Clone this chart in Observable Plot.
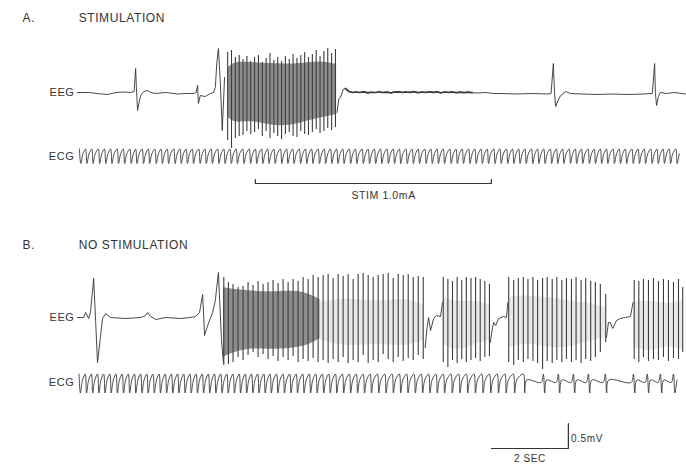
<!DOCTYPE html>
<html><head><meta charset="utf-8">
<script src="https://cdn.jsdelivr.net/npm/d3@7"></script>
<script src="https://cdn.jsdelivr.net/npm/@observablehq/plot@0.6"></script>
<style>html,body{margin:0;padding:0;background:#fff;} #chart svg{display:block}</style>
</head><body><div id="chart"></div>
<script>
// ---------- data (time in s, potential in mV relative to each trace baseline) ----------
const panelLetters = ["A.", "B."];
const panelTitles = ["STIMULATION", "NO STIMULATION"];
const traceNames = ["EEG", "ECG", "EEG", "ECG"];
const stimLabel = "STIM 1.0mA";
const stimOnset = 4.62, stimOffset = 10.75;
const scaleTime = 2, scaleVolt = 0.5;
const scaleTimeLabel = "2 SEC", scaleVoltLabel = "0.5mV";

// EEG A: quiet segments [t, mV] and seizure spikes [t, top, bottom]
const eegA_pre = [[0,0],[0.3,0.0],[0.5,-0.02],[0.78,-0.04],[1.0,0.0],[1.2,0.01],[1.38,0.0],[1.47,0.02],[1.51,0.48],[1.53,0.1],[1.56,-0.36],[1.6,-0.2],[1.64,-0.06],[1.72,0.02],[1.82,0.04],[1.9,0.0],[2.03,-0.02],[2.29,0.0],[2.6,-0.03],[2.8,-0.02],[3.01,-0.02],[3.08,0.0],[3.12,0.14],[3.14,-0.22],[3.19,-0.06],[3.32,-0.08],[3.45,-0.02],[3.53,0.0],[3.58,0.1],[3.62,0.6],[3.66,0.88],[3.71,0.2],[3.76,-0.76],[3.82,0.3]];
const eegA_spikes = [[3.90,0.80,-0.96],[4.00,0.84,-1.12],[4.10,0.70,-0.92],[4.20,0.74,-0.88],[4.30,0.66,-0.86],[4.40,0.72,-0.78],[4.50,0.62,-0.84],[4.60,0.70,-0.80],[4.70,0.74,-0.74],[4.80,0.60,-0.88],[4.90,0.68,-0.78],[5.00,0.78,-0.92],[5.10,0.64,-0.82],[5.20,0.70,-0.88],[5.30,0.62,-0.94],[5.40,0.72,-0.84],[5.50,0.66,-0.80],[5.60,0.76,-0.88],[5.70,0.68,-0.90],[5.80,0.74,-0.78],[5.90,0.80,-0.84],[6.00,0.70,-0.86],[6.10,0.76,-0.80],[6.20,0.84,-0.74],[6.30,0.72,-0.82],[6.40,0.82,-0.78],[6.50,0.88,-0.72],[6.60,0.78,-0.76],[6.70,0.86,-0.70]];
const eegA_post = [[6.74,-0.40],[6.79,-0.12],[6.83,-0.10],[6.90,0.06],[6.96,0.08],[7.05,0.02],[7.15,0.0],[7.25,0.01],[7.32,0.0],[7.45,0.012],[7.55,-0.008],[7.6,0.005],[7.75,0.0],[7.85,0.015],[7.9,0.0],[8.05,0.008],[8.15,-0.01],[8.2,0.006],[8.35,0.012],[8.45,0.0],[8.5,0.01],[8.65,0.004],[8.72,0.016],[8.85,-0.004],[8.95,0.01],[9.05,0.0],[9.12,0.014],[9.25,0.002],[9.35,0.012],[9.42,-0.006],[9.55,0.01],[9.65,0.0],[9.7,0.012],[9.85,-0.004],[9.95,0.008],[10.05,-0.002],[10.15,0.006],[10.25,-0.004],[10.4,-0.01],[10.6,0.0],[10.8,-0.02],[11.0,-0.02],[11.4,-0.03],[11.8,-0.02],[12.2,-0.03],[12.3,-0.02],[12.36,0.58],[12.39,0.0],[12.42,-0.28],[12.48,-0.16],[12.55,-0.06],[12.68,0.02],[12.8,-0.02],[13.1,-0.03],[13.5,-0.04],[13.9,-0.03],[14.3,-0.04],[14.7,-0.03],[14.93,-0.02],[14.99,0.58],[15.01,0.0],[15.04,-0.26],[15.09,-0.08],[15.14,0.0],[15.3,-0.02],[15.5,0.0],[15.79,-0.03]];
const eegA_blob = [[3.92,-0.50,0.50],[4.1,-0.62,0.62],[4.5,-0.56,0.60],[5.0,-0.66,0.58],[5.5,-0.68,0.56],[6.0,-0.56,0.60],[6.4,-0.50,0.62],[6.73,-0.44,0.56]];

// EEG B
const eegB_pre = [[0,0],[0.16,0],[0.21,0.1],[0.29,-0.02],[0.34,0.12],[0.42,0.78],[0.47,-0.06],[0.52,-0.9],[0.6,-0.36],[0.65,-0.02],[0.73,0.08],[0.86,0],[1.25,-0.02],[1.64,0],[1.77,0.04],[1.82,0.1],[1.9,0.02],[2.03,-0.04],[2.29,0],[2.68,-0.02],[2.94,0],[3.06,0.02],[3.17,0.1],[3.25,0.46],[3.3,-0.36],[3.38,-0.16],[3.45,-0.02],[3.51,0.1],[3.58,0.34],[3.66,0.9],[3.74,-0.46],[3.79,-0.9]];
const eegB_spikes1 = [[3.80,0.80,-0.96],[3.92,0.70,-0.94],[4.04,0.66,-0.90],[4.17,0.60,-0.80],[4.30,0.62,-0.86],[4.43,0.70,-0.76],[4.56,0.64,-0.70],[4.69,0.72,-0.80],[4.82,0.66,-0.74],[4.95,0.70,-0.84],[5.08,0.74,-0.78],[5.21,0.68,-0.88],[5.34,0.76,-0.80],[5.47,0.70,-0.86],[5.60,0.76,-0.78],[5.73,0.72,-0.90],[5.86,0.80,-0.84],[5.99,0.76,-0.88],[6.12,0.84,-0.82],[6.25,0.80,-0.90],[6.38,0.84,-0.86],[6.51,0.86,-0.92],[6.64,0.78,-0.84],[6.77,0.86,-0.90],[6.90,0.82,-0.80],[7.03,0.86,-0.92],[7.16,0.76,-0.86],[7.29,0.86,-0.90],[7.42,0.88,-0.76],[7.55,0.84,-0.92],[7.68,0.80,-0.86],[7.81,0.84,-0.90],[7.94,0.86,-0.74],[8.07,0.88,-0.84],[8.20,0.78,-0.90],[8.33,0.86,-0.80],[8.46,0.84,-0.88],[8.59,0.86,-0.82],[8.72,0.80,-0.86],[8.85,0.82,-0.76],[8.98,0.80,-0.84]];
const eegB_gap1 = [[9.03,-0.6],[9.08,-0.2],[9.12,0.0],[9.17,-0.26],[9.25,-0.02],[9.32,0.04],[9.43,0.02],[9.48,0.3]];
const eegB_spikes2 = [[9.50,0.80,-0.90],[9.62,0.76,-1.0],[9.74,0.72,-0.86],[9.86,0.80,-0.92],[9.98,0.74,-0.84],[10.10,0.80,-0.90],[10.22,0.78,-0.86],[10.34,0.80,-0.82],[10.46,0.76,-0.88],[10.58,0.72,-0.80],[10.70,0.66,-0.78]];
const eegB_gap2 = [[10.72,-0.5],[10.78,-0.2],[10.81,-0.10],[10.86,-0.16],[10.94,-0.02],[11.06,0.02],[11.14,0.0],[11.18,0.3]];
const eegB_spikes3 = [[11.20,0.80,-0.90],[11.33,0.74,-0.96],[11.45,0.78,-0.86],[11.58,0.80,-0.90],[11.70,0.76,-0.84],[11.83,0.80,-0.88],[11.95,0.74,-0.92],[12.08,0.78,-1.04],[12.20,0.80,-0.88],[12.33,0.76,-0.92],[12.45,0.80,-0.86],[12.58,0.74,-0.90],[12.70,0.78,-0.84],[12.83,0.76,-0.90],[12.95,0.80,-0.86],[13.08,0.74,-0.92],[13.20,0.78,-0.84],[13.33,0.72,-0.88],[13.45,0.70,-0.80],[13.58,0.66,-0.70],[13.72,0.46,-0.5]];
const eegB_gap3 = [[13.74,-0.4],[13.79,-0.1],[13.84,-0.10],[13.90,-0.22],[14.00,-0.06],[14.10,-0.02],[14.23,0.0],[14.36,0.02],[14.43,0.3]];
const eegB_spikes4 = [[14.46,0.74,-0.84],[14.58,0.72,-0.90],[14.70,0.76,-0.80],[14.83,0.74,-0.88],[14.96,0.78,-0.84],[15.09,0.72,-0.86],[15.22,0.76,-0.80],[15.35,0.74,-0.88],[15.48,0.70,-0.82],[15.61,0.76,-0.84],[15.72,0.6,-0.7]];
const eegB_blobDark = [[3.79,-0.80,0.60],[4.0,-0.72,0.56],[4.4,-0.62,0.54],[5.0,-0.64,0.50],[5.6,-0.62,0.54],[6.0,-0.56,0.48],[6.3,-0.42,0.36]];
const eegB_blobLight = [[[6.3,-0.45,0.3],[7.0,-0.6,0.4],[7.8,-0.5,0.3],[8.5,-0.6,0.4],[9.0,-0.45,0.25]],[[9.5,-0.55,0.4],[9.9,-0.68,0.3],[10.3,-0.55,0.35],[10.7,-0.45,0.25]],[[11.2,-0.6,0.4],[11.8,-0.5,0.45],[12.5,-0.66,0.36],[13.2,-0.5,0.3],[13.72,-0.4,0.2]],[[14.45,-0.6,0.3],[14.9,-0.7,0.35],[15.3,-0.55,0.25],[15.72,-0.65,0.35]]];

// ECG: beat (R-wave) times
const ecgA_beats = [0.05,0.21,0.37,0.54,0.70,0.86,1.03,1.19,1.36,1.51,1.68,1.84,2.01,2.17,2.33,2.50,2.66,2.82,2.98,3.15,3.31,3.47,3.64,3.80,3.96,4.12,4.29,4.46,4.62,4.78,4.94,5.10,5.27,5.43,5.59,5.76,5.92,6.08,6.25,6.41,6.57,6.73,6.89,7.06,7.22,7.39,7.55,7.71,7.87,8.04,8.20,8.36,8.53,8.69,8.85,9.02,9.18,9.34,9.50,9.67,9.83,9.99,10.16,10.32,10.48,10.64,10.81,10.97,11.14,11.30,11.46,11.62,11.79,11.95,12.11,12.28,12.44,12.60,12.77,12.93,13.09,13.26,13.42,13.58,13.74,13.91,14.07,14.23,14.40,14.56,14.72,14.89,15.05,15.21,15.37,15.54];
const ecgB_beats = [0.04,0.20,0.36,0.52,0.68,0.84,1.00,1.16,1.32,1.48,1.64,1.80,1.96,2.12,2.28,2.44,2.60,2.76,2.92,3.08,3.24,3.40,3.56,3.72,3.88,4.04,4.20,4.36,4.52,4.68,4.84,5.00,5.17,5.34,5.51,5.68,5.85,6.02,6.19,6.36,6.53,6.70,6.88,7.06,7.24,7.42,7.60,7.79,7.98,8.17,8.36,8.55,8.74,8.93,9.12,9.31,9.50,9.70,9.90,10.10,10.30,10.50,10.70,10.90,11.10,11.32,11.58,12.10,12.49,12.88,13.27,13.71,14.44,14.80,15.14,15.48];

// ---------- layout ----------
const W = 686, H = 468, pxPerSec = 38.5, t0px = 77;
const level = {eegA: 0, ecgA: -1.27, eegB: -4.5, ecgB: -5.8};
const yTop = 1.84, yBottom = -7.52;
const ink = "#333";

const seg = (points, lv, name) => points.map(([t, v]) => ({t, y: v + lv, trace: name}));
const spikes = (list, lv) => list.map(([t, top, bottom]) => ({t, y1: bottom + lv, y2: top + lv}));
function ecgPoints(beats, lv, name, hi, lo) {
  const out = [];
  beats.forEach((b, i) => {
    out.push({t: b, y: lv + hi, trace: name});
    out.push({t: b + 0.035, y: lv + lo, trace: name});
    out.push({t: b + 0.09, y: lv + hi * 0.3, trace: name});
    const next = beats[i + 1];
    if (next !== undefined && next - b > 0.3) out.push({t: next - 0.06, y: lv, trace: name});
  });
  return out;
}
const eegLines = [
  ...seg(eegA_pre, level.eegA, "a0"), ...seg(eegA_post, level.eegA, "a1"),
  ...seg(eegB_pre, level.eegB, "b0"), ...seg(eegB_gap1, level.eegB, "b1"),
  ...seg(eegB_gap2, level.eegB, "b2"), ...seg(eegB_gap3, level.eegB, "b3")
];
const thickA = seg(eegA_post.filter(([t]) => t > 6.9 && t < 10.3), level.eegA, "thick");
const spikeRules = [
  ...spikes(eegA_spikes, level.eegA), ...spikes(eegB_spikes1, level.eegB), ...spikes(eegB_spikes2, level.eegB),
  ...spikes(eegB_spikes3, level.eegB), ...spikes(eegB_spikes4, level.eegB)
];
const ecgLines = [...ecgPoints(ecgA_beats, level.ecgA, "ecgA", 0.14, -0.15), ...ecgPoints(ecgB_beats, level.ecgB, "ecgB", 0.17, -0.21)];
const blobs = [
  ...eegA_blob.map(([t, lo, hi]) => ({t, y1: lo + level.eegA, y2: hi + level.eegA, k: "a"})),
  ...eegB_blobDark.map(([t, lo, hi]) => ({t, y1: lo + level.eegB, y2: hi + level.eegB, k: "b"}))
];
const lightBlobs = eegB_blobLight.flatMap((s, i) => s.map(([t, lo, hi]) => ({t, y1: lo + level.eegB, y2: hi + level.eegB, k: "l" + i})));

const labelRows = traceNames.map((name, i) => ({name, y: [level.eegA, level.ecgA, level.eegB, level.ecgB][i]}));
const headRows = panelLetters.map((l, i) => ({letter: l, title: panelTitles[i], y: i === 0 ? 1.48 : -3.06}));

const stimY = -1.82, stimTick = 0.08;
const stimPath = [{t: stimOnset, y: stimY + stimTick}, {t: stimOnset, y: stimY}, {t: stimOffset, y: stimY}, {t: stimOffset, y: stimY + stimTick}];
const scaleEnd = 12.75, scaleY = -7.12;
const scalePath = [{t: scaleEnd - scaleTime, y: scaleY}, {t: scaleEnd, y: scaleY}, {t: scaleEnd, y: scaleY + scaleVolt}];

const chart = Plot.plot({
  width: W, height: H,
  marginLeft: t0px, marginRight: 0, marginTop: 0, marginBottom: 0,
  x: {domain: [0, (W - t0px) / pxPerSec], axis: null},
  y: {domain: [yBottom, yTop], axis: null},
  style: {fontFamily: "Liberation Sans, Arial, sans-serif", background: "#fff", letterSpacing: "0.6px"},
  marks: [
    Plot.areaY(lightBlobs, {x: "t", y1: "y1", y2: "y2", z: "k", fill: "#777", fillOpacity: 0.17, curve: "basis"}),
    Plot.areaY(blobs, {x: "t", y1: "y1", y2: "y2", z: "k", fill: "#3a3a3a", fillOpacity: 0.58, curve: "basis"}),
    Plot.ruleX(spikeRules, {x: "t", y1: "y1", y2: "y2", stroke: "#3d3d3d", strokeWidth: 1.1}),
    Plot.line(eegLines, {x: "t", y: "y", z: "trace", stroke: ink, strokeWidth: 0.9, strokeLinejoin: "round"}),
    Plot.line(thickA, {x: "t", y: "y", stroke: "#3a3a3a", strokeWidth: 1.7}),
    Plot.line(ecgLines, {x: "t", y: "y", z: "trace", stroke: "#3a3a3a", strokeWidth: 0.9, curve: "catmull-rom"}),
    Plot.line(stimPath, {x: "t", y: "y", stroke: ink, strokeWidth: 1.2}),
    Plot.line(scalePath, {x: "t", y: "y", stroke: ink, strokeWidth: 1.2}),
    Plot.text(labelRows, {x: 0, y: "y", text: "name", textAnchor: "end", dx: -3, fontSize: 11, fill: ink}),
    Plot.text(headRows, {x: -1.43, y: "y", text: "letter", textAnchor: "start", fontSize: 12, fill: ink}),
    Plot.text(headRows, {x: 0.03, y: "y", text: "title", textAnchor: "start", fontSize: 12, fill: ink}),
    Plot.text([stimLabel], {x: 7.95, y: -2.06, text: d => d, fontSize: 10.5, fill: ink}),
    Plot.text([scaleVoltLabel], {x: scaleEnd + 0.07, y: -6.92, text: d => d, textAnchor: "start", fontSize: 10, fill: ink}),
    Plot.text([scaleTimeLabel], {x: scaleEnd - scaleTime / 2, y: -7.32, text: d => d, fontSize: 10, fill: ink})
  ]
});
document.getElementById("chart").appendChild(chart);
</script></body></html>
